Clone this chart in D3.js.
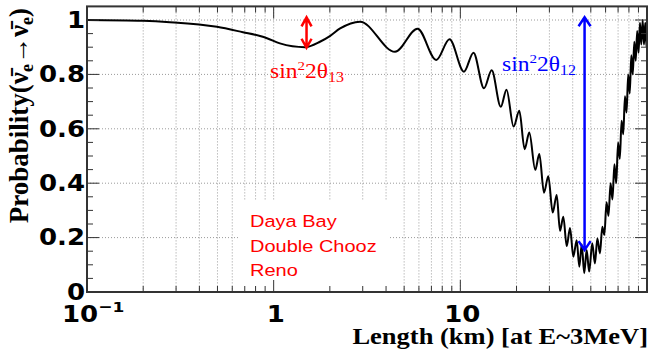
<!DOCTYPE html>
<html><head><meta charset="utf-8">
<script src="https://cdn.jsdelivr.net/npm/d3@7"></script>
<style>body{margin:0;background:#fff} svg{display:block}</style>
</head><body>
<svg id="c" width="650" height="349"></svg>
<script>
// ---- data ----
const lengthKm = [0.1,0.2,0.278,0.497,0.685,0.845,0.921,1.08,1.472,1.77,2.0,2.27,2.9,
  4.467,5.897,7.434,8.75,10.46,11.76,13.39,14.72,16.47,17.68,19.29,20.70,22.1,23.41,25.2,26.49,
  28.07,29.6,31.25,32.83,34.2,35.62,37.14,38.7,40.3,42.02,43.39,44.7,46.1,47.5,49.0,50.9,52.6,54.2,
  56.0,57.6,59.1,60.7,62.2,63.8,65.3,66.9,68.4,70.0,71.5,73.1,74.6,76.2,77.7,79.3,80.8,82.4,83.9,
  85.5,87.0,88.6,90.1,91.7,93.2,94.8,96.3,97.9,99.4,100];
const probability = [1.0,0.997,0.992,0.975,0.955,0.941,0.933,0.914,0.900,0.92,0.941,0.969,0.994,
  0.883,0.968,0.853,0.929,0.81,0.88,0.749,0.815,0.681,0.744,0.608,0.666,0.525,0.586,0.449,0.507,
  0.365,0.426,0.292,0.357,0.225,0.277,0.169,0.235,0.13,0.19,0.093,0.176,0.069,0.154,0.075,0.179,0.105,0.197,
  0.142,0.24,0.21,0.33,0.28,0.40,0.34,0.47,0.40,0.55,0.49,0.63,0.58,0.72,0.66,0.80,0.73,0.87,0.80,
  0.92,0.85,0.96,0.88,0.99,0.91,1.0,0.91,0.99,0.90,0.93];
const yTickValues = [0,0.2,0.4,0.6,0.8,1];
const yTickLabels = ["0","0.2","0.4","0.6","0.8","1"];
const xTickValues = [0.1,1,10];
const xTickLabels = ["10","1","10"];
const xTickExponents = ["\u22121","",""];
const experimentLabels = ["Daya Bay","Double Chooz","Reno"];
const theta13Arrow = {L:1.50, from:0.898, to:1.01};
const theta12Arrow = {L:46.3, from:0.154, to:1.01};

// ---- layout ----
const SY = 0.87;
const svg = d3.select("#c");
const x = d3.scaleLog().domain([0.1,100]).range([87,647]);
const y = d3.scaleLinear().domain([0,1]).range([292,20]);
const yTop = y(1.05);

svg.append("rect").attr("width",650).attr("height",349).attr("fill","#fff");

const allX = x.ticks();
const g = svg.append("g");
// grid
g.selectAll(".vg").data(allX.filter(v=>v>0.1&&v<100)).join("line")
  .attr("x1",d=>x(d)).attr("x2",d=>x(d)).attr("y1",yTop).attr("y2",y(0))
  .attr("stroke","#9a9a9a").attr("stroke-width",1).attr("stroke-dasharray","1,2");
g.selectAll(".hg").data(yTickValues.filter(v=>v>0)).join("line")
  .attr("x1",x(0.1)).attr("x2",x(100)).attr("y1",d=>y(d)).attr("y2",d=>y(d))
  .attr("stroke","#9a9a9a").attr("stroke-width",1).attr("stroke-dasharray","1,2");
// legend box (covers grid)
svg.append("rect").attr("x",240).attr("y",201).attr("width",150).attr("height",90).attr("fill","#fff");

// curve
svg.append("clipPath").attr("id","clip").append("rect")
  .attr("x",87).attr("y",yTop).attr("width",560).attr("height",y(0)-yTop);
const pts = lengthKm.map((L,i)=>[L,probability[i]]);
svg.append("path").datum(pts).attr("clip-path","url(#clip)")
  .attr("d",d3.line().x(d=>x(d[0])).y(d=>y(d[1])).curve(d3.curveMonotoneX))
  .attr("fill","none").attr("stroke","#000").attr("stroke-width",2).attr("stroke-linejoin","round");

// arrows
function arrow(a,color,hw,hh){
  const ax = x(a.L), y1 = y(a.to), y2 = y(a.from);
  const p = d3.path();
  p.moveTo(ax,y1); p.lineTo(ax,y2);
  p.moveTo(ax-hw,y1+hh); p.lineTo(ax,y1); p.lineTo(ax+hw,y1+hh);
  p.moveTo(ax-hw,y2-hh); p.lineTo(ax,y2); p.lineTo(ax+hw,y2-hh);
  svg.append("path").attr("d",p.toString()).attr("fill","none").attr("stroke",color)
    .attr("stroke-width",2.5).attr("stroke-linejoin","miter");
}
arrow(theta13Arrow,"#ff0000",5,9);
arrow(theta12Arrow,"#0000ff",6,9);

function sq(sel,px,py,extra){
  return sel.attr("transform",`translate(${px},${py}) scale(1,${SY})${extra||""}`);
}
function sinLabel(px,py,sub,color){
  const t = sq(svg.append("text"),px,py).attr("font-family","'Liberation Serif','Times New Roman',serif")
    .attr("font-size",23.5).attr("fill",color);
  t.append("tspan").text("sin");
  t.append("tspan").attr("font-size",15).attr("dy",-9).text("2");
  t.append("tspan").attr("dy",9).text("2\u03b8");
  t.append("tspan").attr("font-size",16).attr("dy",5).text(sub);
}
sinLabel(270,78,"13","#ff0000");
sinLabel(502,71,"12","#0000ff");

// experiments
const expBase = [227.3,251.7,276];
experimentLabels.forEach((s,i)=>{
  sq(svg.append("text"),250,expBase[i]).attr("font-family","'Liberation Sans',Arial,sans-serif")
    .attr("font-size",20).attr("fill","#ff0000").text(s);
});

// frame
svg.append("rect").attr("x",87).attr("y",yTop).attr("width",560).attr("height",y(0)-yTop)
  .attr("fill","none").attr("stroke","#333").attr("stroke-width",2);

// ticks
const isMajor = v => Math.abs(Math.log10(v)-Math.round(Math.log10(v)))<1e-6;
const xt = allX.filter(v=>v>0.1&&v<100);
svg.selectAll(".xtb").data(xt).join("line")
  .attr("x1",d=>x(d)).attr("x2",d=>x(d)).attr("y1",y(0)).attr("y2",d=>y(0)-(isMajor(d)?12:6))
  .attr("stroke","#333").attr("stroke-width",1);
svg.selectAll(".xtt").data(xt).join("line")
  .attr("x1",d=>x(d)).attr("x2",d=>x(d)).attr("y1",yTop).attr("y2",d=>yTop+(isMajor(d)?12:6))
  .attr("stroke","#333").attr("stroke-width",1);
const yMinor = d3.range(1,21).map(i=>i*0.05).filter(v=>v<1.049);
svg.selectAll(".ytl").data(yMinor).join("line")
  .attr("x1",x(0.1)).attr("x2",d=>x(0.1)+(Math.abs(d/0.2-Math.round(d/0.2))<1e-6?12:6))
  .attr("y1",d=>y(d)).attr("y2",d=>y(d)).attr("stroke","#333").attr("stroke-width",1);
svg.selectAll(".ytr").data(yMinor).join("line")
  .attr("x1",x(100)).attr("x2",d=>x(100)-(Math.abs(d/0.2-Math.round(d/0.2))<1e-6?12:6))
  .attr("y1",d=>y(d)).attr("y2",d=>y(d)).attr("stroke","#333").attr("stroke-width",1);

// tick labels
const tf = "'DejaVu Sans',sans-serif";
yTickValues.forEach((v,i)=>{
  sq(svg.append("text"),85,y(v)+7.8).attr("font-family",tf).attr("font-weight","bold")
    .attr("font-size",26).attr("text-anchor","end").attr("fill","#000").text(yTickLabels[i]);
});
xTickValues.forEach((v,i)=>{
  const t = sq(svg.append("text"),i===0?62:x(v)+2,321.5).attr("font-family",tf).attr("font-weight","bold")
    .attr("font-size",26).attr("text-anchor",i===0?"start":"middle").attr("fill","#000");
  t.append("tspan").text(xTickLabels[i]);
  if(xTickExponents[i]) t.append("tspan").attr("font-size",17).attr("dy",-11).text(xTickExponents[i]);
});

// axis titles
sq(svg.append("text"),648,344).attr("font-family","'Liberation Serif','Times New Roman',serif")
  .attr("font-weight","bold").attr("font-size",26.5).attr("text-anchor","end").attr("fill","#000")
  .text("Length (km) [at E~3MeV]");
const yt = svg.append("text").attr("transform","translate(28,8) rotate(-90)")
  .attr("font-family","'Liberation Serif','Times New Roman',serif").attr("font-weight","bold")
  .attr("font-size",27).attr("text-anchor","end").attr("fill","#000");
yt.append("tspan").text("Probability(\u03bd\u0304");
yt.append("tspan").attr("font-size",18).attr("dy",5).text("e");
yt.append("tspan").attr("dy",-5).text("\u2192\u03bd\u0304");
yt.append("tspan").attr("font-size",18).attr("dy",5).text("e");
yt.append("tspan").attr("dy",-5).text(")");
</script>
</body></html>
